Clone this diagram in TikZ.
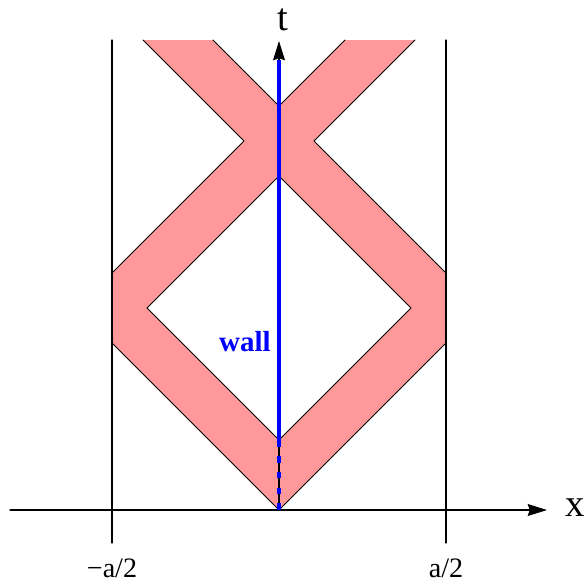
\documentclass[tikz,border=0pt]{standalone}
\usepackage{fontspec}
\setmainfont{Liberation Serif}
\usetikzlibrary{arrows.meta}
\definecolor{pulsepink}{RGB}{255,153,153}
\definecolor{wallblue}{RGB}{0,0,255}

\begin{document}
\begin{tikzpicture}[x=0.02cm,y=0.02cm,>={Stealth[length=11pt,width=6.8pt,inset=1.2pt]},line cap=round,line join=round]
    \useasboundingbox (-279,-73) rectangle (308,510);
    \coordinate (O) at (0,0);
    \coordinate (xstart) at (-269,0);
    \coordinate (xend) at (268,0);
    \coordinate (tend) at (0,469);
    \coordinate (wallbot) at (0,68);
    \coordinate (walltop) at (0,450);

    % pulse reflected at both walls
    \fill[pulsepink,even odd rule] (0,0)--(-167,167)--(-167,237)--(-35,369)--(-136,470)--(-66,470)--(0,404)
        --(66,470)--(136,470)--(35,369)--(167,237)--(167,167)--cycle
        (0,70)--(-132,202)--(0,334)--(132,202)--cycle;
    \draw[line width=0.5pt] (-136,470)--(-35,369)--(-167,237) (-167,167)--(0,0)--(167,167) (167,237)--(35,369)--(136,470);
    \draw[line width=0.5pt] (-66,470)--(0,404)--(66,470);
    \draw[line width=0.5pt] (0,70)--(-132,202)--(0,334)--(132,202)--cycle;

    % walls at -a/2 and a/2
    \foreach \s in {-1,1}{\draw[line width=0.6pt] (\s*167,-33)--(\s*167,470);}

    % axes
    \draw[->,line width=0.6pt] (xstart)--(xend);
    \draw[->,line width=0.6pt] (O)--(tend);
    \draw[wallblue,line width=2.4pt,line cap=butt] (wallbot)--(walltop);
    \draw[wallblue,line width=2.4pt,line cap=butt,dash pattern=on 3.8pt off 5.2pt] (O)--(wallbot);

    \node[font=\fontsize{22}{26}\selectfont] (tlab) at (4,490) {t};
    \node[font=\fontsize{22}{26}\selectfont] (xlab) at (296,2) {x};
    \node[font=\fontsize{16}{19}\selectfont] (mlab) at (-167,-58) {−a/2};
    \node[font=\fontsize{16}{19}\selectfont] (plab) at (167,-58) {a/2};
    \node[wallblue,font=\bfseries\fontsize{16.5}{20}\selectfont,anchor=east,inner sep=0pt] (walllab) at (-8,168) {wall};
\end{tikzpicture}
\end{document}
